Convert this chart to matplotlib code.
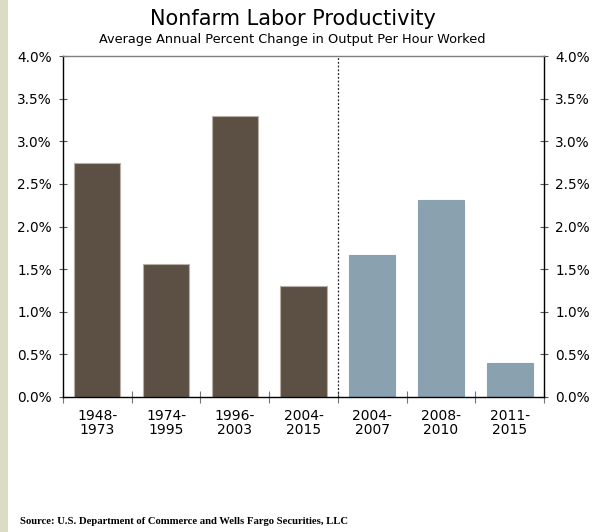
import matplotlib
matplotlib.use("Agg")
import matplotlib.pyplot as plt
from matplotlib.patches import Rectangle
from matplotlib.ticker import FuncFormatter, MultipleLocator

categories = ["1948-\n1973", "1974-\n1995", "1996-\n2003", "2004-\n2015",
              "2004-\n2007", "2008-\n2010", "2011-\n2015"]
values = [2.75, 1.56, 3.30, 1.30, 1.67, 2.31, 0.40]
groups = ["long", "long", "long", "long", "recent", "recent", "recent"]
group_colors = {"long": "#5C5044", "recent": "#8AA2B0"}
group_edges = {"long": "#B8B0A6", "recent": "#8AA2B0"}

title = "Nonfarm Labor Productivity"
subtitle = "Average Annual Percent Change in Output Per Hour Worked"
source = "Source: U.S. Department of Commerce and Wells Fargo Securities, LLC"

fig = plt.figure(figsize=(6.0, 5.32), dpi=100)
ax = fig.add_axes([63/600, 1-397/532, (544-63)/600, (397-56)/532])

# beige strip on the left edge
fig.patches.append(Rectangle((0, 0), 8/600, 1, transform=fig.transFigure,
                             facecolor="#DCDBC4", edgecolor="none", zorder=0))

x = list(range(len(categories)))
ax.bar(x, values, width=0.67,
       color=[group_colors[g] for g in groups],
       edgecolor=[group_edges[g] for g in groups], linewidth=0.8, zorder=2)

ax.set_xlim(-0.5, len(categories) - 0.5)
ax.set_ylim(0, 4.0)

# divider between periods
ax.axvline(3.5, color="#222222", linestyle=(0, (1.5, 1.5)), linewidth=0.9, zorder=3)

ax.yaxis.set_major_locator(MultipleLocator(0.5))
fmt = FuncFormatter(lambda v, p: f"{v:.1f}%")
ax.yaxis.set_major_formatter(fmt)
ax.tick_params(axis="y", which="both", direction="inout", length=6, width=0.8,
               color="#555555", labelsize=9.8, pad=5, left=True, right=True,
               labelleft=True, labelright=True)

ax.set_xticks([i + 0.5 for i in range(-1, len(categories))])
ax.set_xticklabels([])
ax.set_xticks(x, minor=True)
ax.set_xticklabels(categories, minor=True, fontsize=10, linespacing=1.0)
ax.tick_params(axis="x", which="major", direction="inout", length=8, width=0.8,
               color="#777777")
ax.tick_params(axis="x", which="minor", length=0, pad=9)

for s in ["left", "right", "bottom"]:
    ax.spines[s].set_color("black")
    ax.spines[s].set_linewidth(1.0)
ax.spines["top"].set_color("#808080")
ax.spines["top"].set_linewidth(1.0)

fig.text(292.5/600, 1-19/532, title, ha="center", va="center", fontsize=15)
fig.text(292.5/600, 1-40/532, subtitle, ha="center", va="center", fontsize=9.3)
fig.text(20/600, 1-522/532, source, ha="left", va="center", fontsize=7.7,
         family="Liberation Serif", fontweight="bold")

fig.savefig("out.png", dpi=100)
